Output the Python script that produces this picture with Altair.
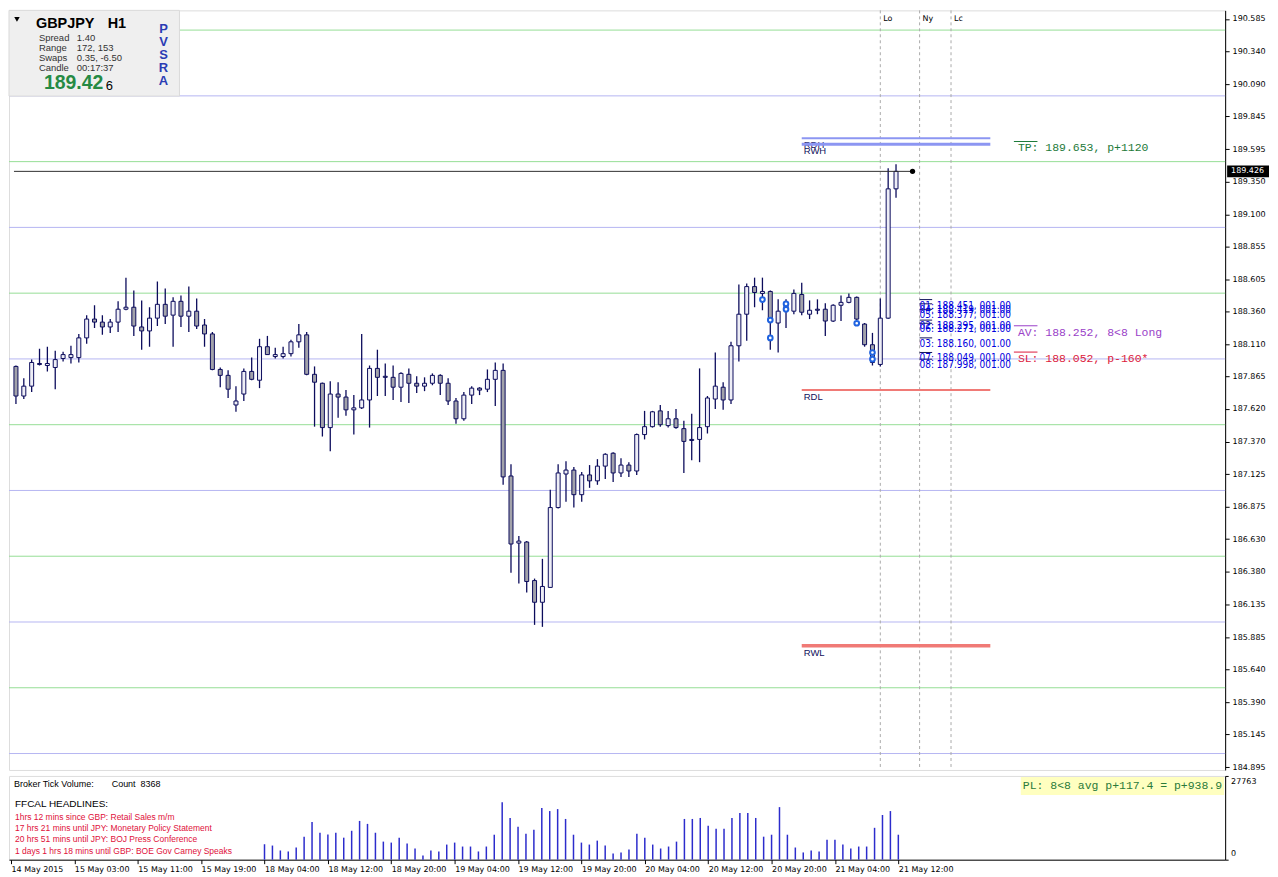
import altair as alt
import pandas as pd

# ---------------- values ----------------
opens = [187.943, 187.718, 187.793, 187.965, 187.950, 187.935, 188.003, 188.010, 188.010, 188.160,
         188.303, 188.280, 188.243, 188.280, 188.378, 188.393, 188.243, 188.213, 188.310, 188.415,
         188.333, 188.438, 188.325, 188.363, 188.258, 188.190, 187.920, 187.875, 187.650, 187.733,
         187.905, 187.838, 188.093, 188.018, 188.018, 188.040, 188.130, 188.183, 187.883, 187.815,
         187.478, 187.733, 187.710, 187.613, 187.628, 187.688, 187.928, 187.868, 187.860, 187.785,
         187.883, 187.815, 187.793, 187.815, 187.875, 187.815, 187.680, 187.545, 187.725, 187.778,
         187.770, 187.845, 187.913, 187.110, 186.600, 186.608, 186.315, 186.150, 186.263, 186.870,
         187.125, 187.155, 186.968, 187.118, 187.073, 187.185, 187.283, 187.133, 187.193, 187.148,
         187.425, 187.485, 187.605, 187.493, 187.545, 187.470, 187.388, 187.388, 187.485, 187.695,
         187.785, 187.688, 188.100, 188.340, 188.550, 188.498, 188.513, 188.273, 188.378, 188.363,
         188.490, 188.340, 188.378, 188.378, 188.288, 188.408, 188.430, 188.468, 188.265, 188.108,
         187.958, 188.310, 189.293]
highs = [187.950, 187.853, 187.995, 188.078, 188.093, 188.063, 188.055, 188.100, 188.190, 188.333,
         188.408, 188.333, 188.303, 188.438, 188.618, 188.520, 188.445, 188.393, 188.588, 188.535,
         188.468, 188.483, 188.550, 188.460, 188.303, 188.205, 187.935, 187.913, 187.793, 187.928,
         188.010, 188.153, 188.175, 188.085, 188.093, 188.145, 188.265, 188.205, 187.943, 187.820,
         187.830, 187.823, 187.763, 187.725, 188.190, 187.950, 188.070, 187.965, 187.950, 187.898,
         187.928, 187.868, 187.860, 187.890, 187.883, 187.853, 187.703, 187.748, 187.793, 187.785,
         187.920, 187.973, 187.965, 187.200, 186.653, 186.615, 186.330, 186.480, 187.005, 187.200,
         187.223, 187.178, 187.140, 187.193, 187.238, 187.283, 187.290, 187.245, 187.215, 187.433,
         187.605, 187.605, 187.650, 187.605, 187.620, 187.530, 187.583, 187.928, 187.718, 188.048,
         187.823, 188.130, 188.565, 188.573, 188.618, 188.618, 188.520, 188.453, 188.453, 188.528,
         188.580, 188.445, 188.453, 188.423, 188.415, 188.483, 188.498, 188.475, 188.273, 188.198,
         188.460, 189.450, 189.480]
lows = [187.658, 187.695, 187.748, 187.950, 187.905, 187.770, 187.980, 187.965, 187.973, 188.115,
        188.235, 188.183, 188.198, 188.205, 188.370, 188.175, 188.070, 188.093, 188.250, 188.265,
        188.093, 188.243, 188.205, 188.228, 188.093, 187.913, 187.785, 187.703, 187.598, 187.680,
        187.838, 187.778, 188.033, 188.003, 188.003, 188.018, 188.085, 187.875, 187.485, 187.410,
        187.298, 187.553, 187.568, 187.425, 187.620, 187.478, 187.718, 187.718, 187.688, 187.673,
        187.665, 187.740, 187.755, 187.800, 187.725, 187.650, 187.508, 187.530, 187.658, 187.725,
        187.748, 187.643, 187.043, 186.375, 186.293, 186.225, 185.978, 185.963, 186.263, 186.863,
        186.915, 186.870, 186.915, 187.020, 187.043, 187.088, 187.065, 187.103, 187.103, 187.118,
        187.388, 187.478, 187.485, 187.478, 187.470, 187.133, 187.230, 187.215, 187.433, 187.620,
        187.613, 187.658, 187.980, 188.138, 188.393, 188.370, 188.070, 188.048, 188.235, 188.340,
        188.333, 188.303, 188.340, 188.175, 188.280, 188.288, 188.423, 188.295, 188.093, 187.950,
        187.943, 188.303, 189.225]
closes = [187.718, 187.793, 187.973, 187.958, 187.965, 187.995, 188.033, 188.033, 188.160, 188.303,
          188.280, 188.243, 188.280, 188.378, 188.393, 188.250, 188.213, 188.310, 188.415, 188.325,
          188.438, 188.325, 188.363, 188.250, 188.190, 187.920, 187.875, 187.770, 187.680, 187.905,
          187.845, 188.093, 188.033, 188.033, 188.040, 188.130, 188.183, 187.883, 187.823, 187.478,
          187.733, 187.710, 187.613, 187.628, 187.688, 187.928, 187.860, 187.860, 187.785, 187.890,
          187.815, 187.793, 187.815, 187.875, 187.815, 187.680, 187.545, 187.725, 187.778, 187.763,
          187.845, 187.913, 187.103, 186.593, 186.615, 186.308, 186.150, 186.270, 186.870, 187.133,
          187.155, 186.968, 187.118, 187.073, 187.185, 187.275, 187.133, 187.193, 187.148, 187.425,
          187.485, 187.598, 187.500, 187.545, 187.478, 187.373, 187.380, 187.478, 187.703, 187.793,
          187.688, 188.100, 188.340, 188.550, 188.505, 188.513, 188.288, 188.363, 188.423, 188.498,
          188.355, 188.370, 188.370, 188.288, 188.408, 188.430, 188.468, 188.303, 188.108, 187.973,
          188.310, 189.293, 189.426]

volume_first_bar = 32
volumes = [5118, 4683, 3049, 2722, 4029, 7623, 12523, 8930, 8385, 8930, 7296, 9583, 12850, 11870,
           8930, 5990, 5663, 7296, 5336, 3703, 1416, 3049, 2722, 5009, 5663, 4356, 4356, 2722, 4356,
           8276, 19058,
           13830, 10890, 8603, 9910, 17097, 16117, 16771, 13504, 8276, 5663, 5009, 6316, 4683, 2069,
           2396, 3376, 8603, 7296, 5009, 3703, 4356, 5990, 13504, 13504, 13830, 11217, 10237, 10237,
           13830, 15464, 15464, 13830, 7623, 8276, 17424, 8276, 4029, 2396, 3049, 2722, 6643, 6643,
           5009, 3703, 4356, 4356, 10563, 14810, 16117, 8276]
volume_max = 27763

time_tick_bars = [0, 8, 16, 24, 32, 40, 48, 56, 64, 72, 80, 88, 96, 104, 112]
time_tick_labels = ["14 May 2015", "15 May 03:00", "15 May 11:00", "15 May 19:00", "18 May 04:00",
                    "18 May 12:00", "18 May 20:00", "19 May 04:00", "19 May 12:00", "19 May 20:00",
                    "20 May 04:00", "20 May 12:00", "20 May 20:00", "21 May 04:00", "21 May 12:00"]

price_ticks = [190.585, 190.340, 190.090, 189.845, 189.595, 189.350, 189.100, 188.855, 188.605,
               188.360, 188.110, 187.865, 187.620, 187.370, 187.125, 186.875, 186.630, 186.380,
               186.135, 185.885, 185.640, 185.390, 185.145, 184.895]
price_min, price_max = 184.875, 190.650

half_levels = [190.5, 189.5, 188.5, 187.5, 186.5, 185.5]
whole_levels = [190.0, 189.0, 188.0, 187.0, 186.0, 185.0]

session_names = ["Lo", "Ny", "Lc"]
session_bars = [110, 115, 119]

zone_names = ["RDH", "RWH", "RDL", "RWL"]
zone_prices = [189.677, 189.632, 187.763, 185.820]
zone_start_bar, zone_end_bar = 100, 124

order_ids = ["01", "02", "03", "04", "05", "06", "07", "08"]
order_prices = [188.451, 188.295, 188.160, 188.419, 188.377, 188.271, 188.049, 187.998]
order_bars = [95, 96, 96, 98, 98, 107, 109, 109]
order_lot = "001.00"
order_tag_bar = 115

target_labels = ["TP: 189.653, p+1120", "AV: 188.252, 8<8 Long", "SL: 188.052, p-160*"]
target_prices = [189.653, 188.252, 188.052]
target_bar = 127

current_price = 189.426
current_line_end_bar = 114.1

info_names = ["Spread", "Range", "Swaps", "Candle"]
info_values = ["1.40", "172, 153", "0.35, -6.50", "00:17:37"]
symbol, timeframe = "GBPJPY", "H1"
bid_main, bid_last = "189.42", "6"
pvsra_letters = ["P", "V", "S", "R", "A"]

volume_header = ["Broker Tick Volume:", "Count\u00a0\u00a08368"]
headline_title = "FFCAL HEADLINES:"
headlines = ["1hrs 12 mins since GBP: Retail Sales m/m",
             "17 hrs 21 mins until JPY: Monetary Policy Statement",
             "20 hrs 51 mins until JPY: BOJ Press Conference",
             "1 days 1 hrs 18 mins until GBP: BOE Gov Carney Speaks"]
pl_text = "PL: 8<8 avg p+117.4 = p+938.9"

# ---------------- layout / style ----------------
W, H1, H2 = 1220, 762, 84
EDGE = "#0c0c5c"
BULL = "#eeeef6"
BEAR = "#a2a2aa"
GREEN_LVL = "#96de96"
BLUE_LVL = "#b6b6f2"
RING = "#1f63e0"
VOLC = "#2c2ccc"
MONO = "Liberation Mono"
SANS = "Liberation Sans"
AXF = "DejaVu Sans"
NARROW = "Liberation Sans Narrow, DejaVu Sans Condensed, Liberation Sans"

xs = alt.Scale(domain=[-0.25, 153.25], nice=False, zero=False)
ys = alt.Scale(domain=[price_min, price_max], nice=False, zero=False)

price_axis = alt.Axis(orient="right", values=price_ticks, format=".3f", labelOverlap=False,
                      tickSize=4, labelPadding=3, grid=False, title=None, labelFont=AXF,
                      labelFontSize=8, labelColor="black", tickColor="black", domainColor="black")


def X(f):
    return alt.X(f, scale=xs, axis=None)


def Y(f):
    return alt.Y(f, scale=ys, axis=price_axis)


def one(txt):
    return pd.DataFrame({"t": [txt]})


cdf = pd.DataFrame({"bar": list(range(len(opens))), "open": opens, "high": highs,
                    "low": lows, "close": closes})
up_df = cdf[cdf["close"] > cdf["open"]]
dn_df = cdf[cdf["close"] <= cdf["open"]]

layers = []
# level lines
layers.append(alt.Chart(pd.DataFrame({"p": half_levels})).mark_rule(color=GREEN_LVL, strokeWidth=1)
              .encode(y=Y("p:Q")))
layers.append(alt.Chart(pd.DataFrame({"p": whole_levels})).mark_rule(color=BLUE_LVL, strokeWidth=1)
              .encode(y=Y("p:Q")))
# sessions
sdf = pd.DataFrame({"bar": session_bars, "name": session_names})
layers.append(alt.Chart(sdf).mark_rule(color="#aaaaaa", strokeDash=[3, 3], strokeWidth=1)
              .encode(x=X("bar:Q")))
layers.append(alt.Chart(sdf).mark_text(align="left", dx=3, baseline="middle", font=AXF, fontSize=8,
                                       color="black")
              .encode(x=X("bar:Q"), y=alt.value(9), text="name:N"))
# candles
layers.append(alt.Chart(cdf).mark_rule(color=EDGE, strokeWidth=1.3, clip=True)
              .encode(x=X("bar:Q"), y=Y("low:Q"), y2="high:Q"))
for d, fc in ((up_df, BULL), (dn_df, BEAR)):
    layers.append(alt.Chart(d).mark_bar(size=4, fill=fc, stroke=EDGE, strokeWidth=1, clip=True,
                                        orient="vertical")
                  .encode(x=X("bar:Q"), y=Y("open:Q"), y2="close:Q"))
# order markers
odf = pd.DataFrame({"bar": order_bars, "price": order_prices,
                    "label": [f"{i}: {p:.3f}, {order_lot}" for i, p in zip(order_ids, order_prices)],
                    "s": order_tag_bar, "e": order_tag_bar + 1.6})
layers.append(alt.Chart(odf).mark_point(shape="circle", filled=True, fill="white", stroke=RING,
                                        strokeWidth=2, size=22, opacity=1)
              .encode(x=X("bar:Q"), y=Y("price:Q")))
layers.append(alt.Chart(odf).mark_rule(color="#10105a", strokeWidth=1)
              .encode(x=X("s:Q"), x2="e:Q", y=Y("price:Q")))
layers.append(alt.Chart(odf).mark_text(align="left", baseline="top", dy=1, font=NARROW, fontSize=10,
                                       color="#0000dd")
              .encode(x=X("s:Q"), y=Y("price:Q"), text="label:N"))
# TP / AV / SL
tdf = pd.DataFrame({"price": target_prices, "label": target_labels,
                    "col": ["#1d7a3a", "#9a3fc8", "#dc1a3c"], "s": target_bar, "e": target_bar + 3})
layers.append(alt.Chart(tdf).mark_rule(strokeWidth=1)
              .encode(x=X("s:Q"), x2="e:Q", y=Y("price:Q"), color=alt.Color("col:N", scale=None)))
layers.append(alt.Chart(tdf).mark_text(align="left", baseline="top", dx=4, dy=1, font=MONO,
                                       fontSize=11.5)
              .encode(x=X("s:Q"), y=Y("price:Q"), text="label:N", color=alt.Color("col:N", scale=None)))
# zones
zdf = pd.DataFrame({"name": zone_names, "price": zone_prices, "s": zone_start_bar, "e": zone_end_bar,
                    "col": ["#8c96f2", "#8c96f2", "#f07a76", "#f07a76"], "w": [2, 3, 2, 3.5]})
layers.append(alt.Chart(zdf).mark_text(align="left", baseline="top", dx=2, dy=2, font=SANS,
                                       fontSize=9.5, color="#10105a")
              .encode(x=X("s:Q"), y=Y("price:Q"), text="name:N"))
layers.append(alt.Chart(zdf).mark_rule()
              .encode(x=X("s:Q"), x2="e:Q", y=Y("price:Q"), color=alt.Color("col:N", scale=None),
                      strokeWidth=alt.StrokeWidth("w:Q", scale=None)))
# current price line, dot and axis box
pp = (price_max - price_min) / H1
cur = pd.DataFrame({"s": [-0.25], "e": [current_line_end_bar], "price": [current_price]})
layers.append(alt.Chart(cur).mark_rule(color="#303030", strokeWidth=1)
              .encode(x=X("s:Q"), x2="e:Q", y=Y("price:Q")))
layers.append(alt.Chart(cur).mark_point(filled=True, color="black", size=28, opacity=1)
              .encode(x=X("e:Q"), y=Y("price:Q")))
layers.append(alt.Chart(cur).transform_calculate(top=f"datum.price + {6 * pp}",
                                                 bot=f"datum.price - {6 * pp}")
              .mark_rect(color="black").encode(x=alt.value(W + 2), x2=alt.value(W + 44),
                                               y=Y("top:Q"), y2="bot:Q"))
layers.append(alt.Chart(cur).mark_text(align="left", baseline="middle", font=AXF, fontSize=8,
                                       color="white")
              .encode(x=alt.value(W + 6), y=Y("price:Q"), text=alt.Text("price:Q", format=".3f")))
# info box
layers.append(alt.Chart(one("")).mark_rect(color="#efefef", stroke="#dadada", strokeWidth=1)
              .encode(x=alt.value(0), x2=alt.value(171), y=alt.value(0), y2=alt.value(86)))
layers.append(alt.Chart(one("")).mark_point(shape="triangle-down", filled=True, color="black",
                                            size=30, opacity=1)
              .encode(x=alt.value(8), y=alt.value(9)))


def ptext(txt, x, y, size, color="black", weight="normal", font=SANS, align="left"):
    return alt.Chart(one(txt)).mark_text(align=align, baseline="middle", font=font, fontSize=size,
                                         fontWeight=weight, color=color).encode(
        x=alt.value(x), y=alt.value(y), text="t:N")


layers.append(ptext(symbol, 27, 14, 14.5, weight="bold"))
layers.append(ptext(timeframe, 99, 14, 14.5, weight="bold"))
for k, (nm, vv) in enumerate(zip(info_names, info_values)):
    layers.append(ptext(nm, 30, 27.5 + 10 * k, 9.5, color="#333333"))
    layers.append(ptext(vv, 68, 27.5 + 10 * k, 9.5, color="#333333"))
layers.append(ptext(bid_main, 35, 73, 19.5, color="#268a44", weight="bold"))
layers.append(ptext(bid_last, 97, 76, 13))
for k, ch in enumerate(pvsra_letters):
    layers.append(ptext(ch, 155, 18.5 + 13.1 * k, 13, color="#2a3cb4", weight="bold", align="center"))

main = alt.layer(*layers).properties(width=W, height=H1)

# ---------------- volume panel ----------------
label_arr = "[" + ",".join(f"'{s}'" for s in time_tick_labels) + "]"
time_axis = alt.Axis(values=time_tick_bars, labelExpr=f"{label_arr}[round(datum.value / 8)]",
                     labelAlign="left", labelOverlap=False, labelFlush=False, labelBound=False,
                     tickSize=4, labelPadding=2, grid=False, title=None, labelFont=AXF,
                     labelFontSize=8, labelColor="black", tickColor="black", domainColor="black")
vs = alt.Scale(domain=[0, volume_max], nice=False, zero=True)
vdf = pd.DataFrame({"bar": list(range(volume_first_bar, volume_first_bar + len(volumes))),
                    "vol": volumes, "zero": 0})
vl = []
vl.append(alt.Chart(vdf).mark_rule(color=VOLC, strokeWidth=1.5)
          .encode(x=alt.X("bar:Q", scale=xs, axis=time_axis),
                  y=alt.Y("zero:Q", scale=vs,
                          axis=alt.Axis(orient="right", values=[0, volume_max], labels=False,
                                        tickSize=3, grid=False, title=None, tickColor="black",
                                        domainColor="black")),
                  y2="vol:Q"))
vl.append(ptext(volume_header[0], 5, 8, 9))
vl.append(ptext(volume_header[1], 103, 8, 9))
vl.append(ptext(headline_title, 6, 28.5, 10))
for k, h in enumerate(headlines):
    vl.append(ptext(h, 6, 41 + 11.3 * k, 8.5, color="#e0103a"))
vl.append(alt.Chart(one("")).mark_rect(color="#ffffc0")
          .encode(x=alt.value(1015), x2=alt.value(W - 1), y=alt.value(1), y2=alt.value(19)))
vl.append(ptext(pl_text, 1017, 10, 11.5, color="#2a7a3a", font=MONO))
vl.append(ptext(str(volume_max), W + 6, 6, 8, font=AXF))
vl.append(ptext("0", W + 6, H2 - 6, 8, font=AXF))

vol = alt.layer(*vl).properties(width=W, height=H2)

chart = (alt.vconcat(main, vol, spacing=3)
         .properties(padding={"left": 0, "top": 0, "right": 0, "bottom": 0})
         .configure_view(stroke="black", strokeWidth=1)
         .configure(background="white"))

chart.save("out.html", embed_options={"renderer": "svg", "actions": False})
